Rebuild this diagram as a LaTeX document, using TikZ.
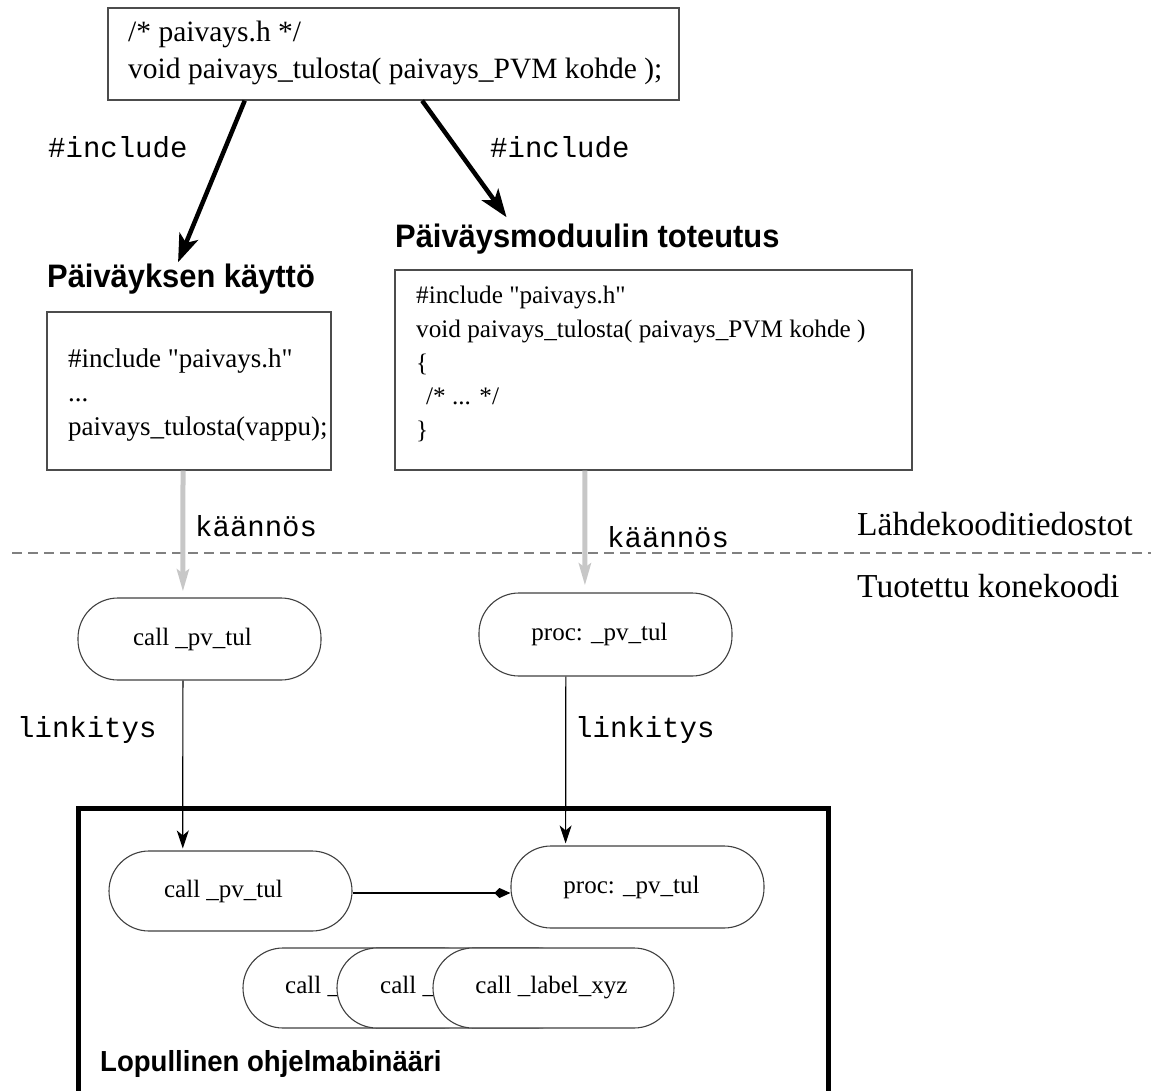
\documentclass[tikz,border=0pt]{standalone}
\usepackage{fontspec}
\setmainfont[Ligatures=TeXOff]{Liberation Serif}
\newfontfamily\hdfont[FakeStretch=0.95]{Liberation Sans}
\newfontfamily\monofont{Liberation Mono}
\usetikzlibrary{arrows.meta,calc}
\tikzset{
 codebox/.style={draw=black!70, line width=1.3pt, fill=white, inner sep=0pt},
 codetext/.style={anchor=west, align=left, inner sep=0pt},
 pill/.style={draw=black!75, line width=1.1pt, fill=white, rounded corners=40pt, inner sep=0pt, font=\fontsize{25}{30}\selectfont},
 pilltext/.style={anchor=base west, inner sep=0pt, font=\fontsize{25}{30}\selectfont},
 inc/.style={line width=4.5pt, -{Stealth[length=28pt,width=20pt,inset=7pt]}},
 comp/.style={line width=5pt, draw=black!22, -{Stealth[length=22pt,width=12pt,inset=4pt]}},
 lnk/.style={line width=1.2pt, -{Stealth[length=18pt,width=12pt,inset=5pt]}},
 call/.style={line width=1.2pt, -{Kite[length=16pt,width=10pt,inset=5pt]}},
 monolbl/.style={anchor=west, inner sep=0pt, font=\monofont\fontsize{29}{34}\selectfont},
 heading/.style={anchor=base west, inner sep=0pt, font=\hdfont\bfseries\fontsize{32.5}{38}\selectfont},
 sidelbl/.style={anchor=base west, inner sep=0pt, font=\fontsize{33.5}{40}\selectfont},
 sepline/.style={draw=black!50, line width=1.5pt, dash pattern=on 10pt off 6pt},
}
\begin{document}
\begin{tikzpicture}[x=1pt,y=-1pt]
\useasboundingbox (0,0) rectangle (1151,1091);
\clip (0,0) rectangle (1151,1091);

% header file
\node[codebox, minimum width=571pt, minimum height=92pt] (hdrbox) at (393.5,54) {};
\node[codetext, font=\fontsize{29.5}{37}\selectfont] (hdrtext) at (128,53)
  {/* paivays.h */\\void paivays\_tulosta( paivays\_PVM kohde );};

% headings
\node[heading] (usehead) at (47,288) {Päiväyksen käyttö};
\node[heading] (modhead) at (395,248) {Päiväysmoduulin toteutus};

% source boxes
\node[codebox, minimum width=284pt, minimum height=158pt] (usebox) at (189,391) {};
\node[codetext, font=\fontsize{27}{34}\selectfont] (usetext) at (68,395)
  {\#include "paivays.h"\\...\\paivays\_tulosta(vappu);};
\node[codebox, minimum width=517pt, minimum height=200pt] (modbox) at (653.5,370) {};
\node[codetext, font=\fontsize{25.2}{33.7}\selectfont] (modtext) at (416,364)
  {\#include "paivays.h"\\void paivays\_tulosta( paivays\_PVM kohde )\\\{\\\hspace*{10pt}/* ... */\\\}};

% mono labels
\node[monolbl] (inc1) at (48,147) {\#include};
\node[monolbl] (inc2) at (490,147) {\#include};
\node[monolbl] (kaan1) at (195,526) {käännös};
\node[monolbl] (kaan2) at (607,537) {käännös};
\node[monolbl] (link1) at (17,730) {linkitys};
\node[monolbl] (link2) at (575,730) {linkitys};

% side labels and separator
\node[sidelbl] (srclbl) at (857,535) {Lähdekooditiedostot};
\node[sidelbl] (objlbl) at (857,597) {Tuotettu konekoodi};
\draw[sepline] (12,553) -- (1151,553);

% object code
\node[pill, minimum width=243pt, minimum height=82pt] (call1) at (199.5,639) {call \_pv\_tul\hspace*{14pt}};
\node[pill, minimum width=253pt, minimum height=83pt] (proc1) at (605.5,634.5) {proc: \_pv\_tul\hspace*{12pt}};

% final binary
\node[draw, line width=5pt, minimum width=750pt, minimum height=300pt, inner sep=0pt] (finalbox) at (453,958) {};
\node[pill, minimum width=243pt, minimum height=80pt] (callA) at (230.5,891) {call \_pv\_tul\hspace*{14pt}};
\node[pill, minimum width=253pt, minimum height=82pt] (procB) at (637.5,887) {proc: \_pv\_tul\hspace*{12pt}};
\node[pill, minimum width=241pt, minimum height=80pt] (lbl1) at (363.5,988) {};
\node[pilltext] (lbl1text) at (285,993) {call \_};
\node[pill, minimum width=241pt, minimum height=80pt] (lbl2) at (457.5,988) {};
\node[pilltext] (lbl2text) at (380,993) {call \_};
\node[pill, minimum width=241pt, minimum height=80pt] (lbl3) at (553.5,988) {call \_label\_xyz\hspace*{4pt}};
\node[heading, font=\hdfont\bfseries\fontsize{29}{34}\selectfont] (finlbl) at (100,1071) {Lopullinen ohjelmabinääri};

% connectors
\draw[inc] ($(hdrbox.south west)!0.24!(hdrbox.south east)$) -- ($(usehead.north)+(-3,-2)$);
\draw[inc] ($(hdrbox.south west)!0.55!(hdrbox.south east)$) -- ($(modhead.north west)!0.29!(modhead.north east)+(0,-7)$);
\draw[comp, shorten >=6pt] ($(usebox.south west)!0.479!(usebox.south east)$) -- ($(call1.north west)!0.432!(call1.north east)$);
\draw[comp, shorten >=7pt] ($(modbox.south west)!0.3675!(modbox.south east)$) -- ($(proc1.north west)!0.419!(proc1.north east)$);
\draw[lnk, shorten >=2pt] ($(call1.south west)!0.432!(call1.south east)$) -- ($(callA.north west)!0.3045!(callA.north east)$);
\draw[lnk, shorten >=2pt] ($(proc1.south west)!0.344!(proc1.south east)$) -- ($(procB.north west)!0.217!(procB.north east)$);
\draw[call] ([yshift=-2pt]callA.east) -- ([yshift=-2pt]callA.east -| procB.west);
\end{tikzpicture}
\end{document}
